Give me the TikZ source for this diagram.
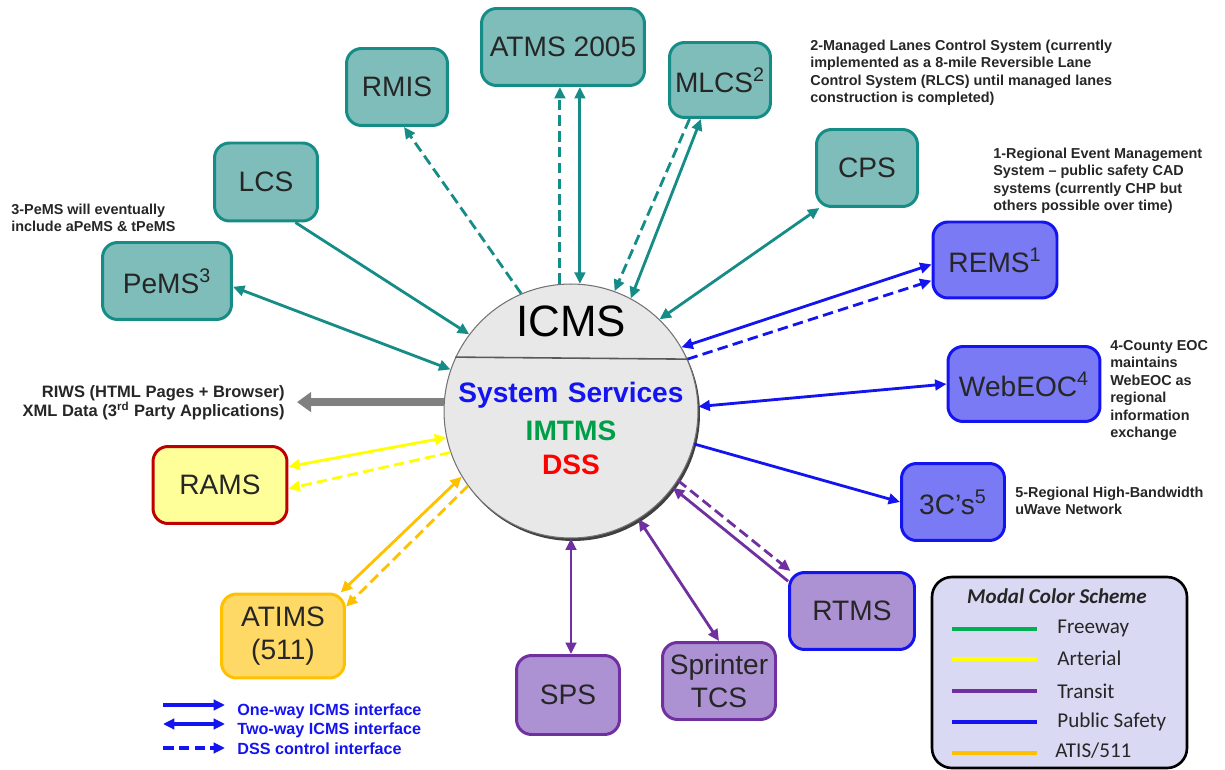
\documentclass[tikz,border=0pt]{standalone}
\usepackage{fontspec}
\setmainfont{Liberation Sans}
\newfontfamily\calibri{Carlito}
\usetikzlibrary{arrows.meta}
\definecolor{tealline}{HTML}{168C87}
\definecolor{tealfill}{HTML}{7FBDBA}
\definecolor{safeline}{HTML}{1414F0}
\definecolor{safefill}{HTML}{7A7AF5}
\definecolor{transline}{HTML}{7030A0}
\definecolor{transfill}{HTML}{AD92D3}
\definecolor{artline}{HTML}{FFFF00}
\definecolor{artfill}{HTML}{FFFF99}
\definecolor{ramsline}{HTML}{C00000}
\definecolor{atisline}{HTML}{FFC000}
\definecolor{atisfill}{HTML}{FFD966}
\definecolor{fwygreen}{HTML}{00B050}
\definecolor{legfill}{HTML}{D9D9F3}
\definecolor{icmsfill}{HTML}{E8E8E8}
\tikzset{
  sys/.style={draw, rounded corners=0.3cm, line width=1.7pt, align=center,
    font=\fontsize{16}{19}\selectfont, text=black!85, inner sep=0pt},
  fwybox/.style={sys, draw=tealline, fill=tealfill},
  safebox/.style={sys, draw=safeline, fill=safefill},
  transbox/.style={sys, draw=transline, fill=transfill},
  note/.style={font=\bfseries\fontsize{8.2}{10}\selectfont, text=black!85,
    align=left, anchor=base west, inner sep=0pt},
  link/.style={line width=1.6pt, -{Triangle[length=6.5pt,width=6pt]}},
  both/.style={line width=1.6pt, {Triangle[length=6.5pt,width=6pt]}-{Triangle[length=6.5pt,width=6pt]}},
  dss/.style={link, dash pattern=on 6pt off 3pt},
  keytext/.style={font=\calibri\fontsize{12}{14}\selectfont, text=black!85, anchor=base west, inner sep=0pt}
}
\begin{document}
\begin{tikzpicture}[x=0.02cm, y=-0.02cm]
  \useasboundingbox (0,0) rectangle (1225,770);

  % ICMS hub
  \fill[black!75] (573,414) circle[radius=2.54cm];
  \node[circle, draw=black!55, fill=icmsfill, line width=0.6pt, minimum size=5.08cm, inner sep=0pt] (icms) at (571,411) {};
  \draw[black!65, line width=0.9pt] (icms.24.7) -- (icms.155.3);
  \node[font=\fontsize{25}{25}\selectfont, anchor=base, inner sep=0pt] (icmsname) at (571,337) {ICMS};
  \node[font=\bfseries\fontsize{16}{16}\selectfont, text=safeline, anchor=base, inner sep=0pt] (services) at (571,403) {System\,\,Services};
  \node[font=\bfseries\fontsize{16}{16}\selectfont, text=fwygreen!90!black, anchor=base, inner sep=0pt] (imtms) at (571,440) {IMTMS};
  \node[font=\bfseries\fontsize{16}{16}\selectfont, text=red, anchor=base, inner sep=0pt] (dss) at (571,475) {DSS};

  % freeway systems
  \node[fwybox, minimum width=3.26cm, minimum height=1.54cm] (atms) at (563,47) {ATMS 2005};
  \node[fwybox, minimum width=2.02cm, minimum height=1.54cm] (rmis) at (397,87) {RMIS};
  \node[fwybox, minimum width=2.02cm, minimum height=1.5cm] (mlcs) at (720,80) {MLCS\textsuperscript{2}};
  \node[fwybox, minimum width=2.06cm, minimum height=1.56cm] (lcs) at (266,182) {LCS};
  \node[fwybox, minimum width=2.02cm, minimum height=1.54cm] (cps) at (867,168) {CPS};
  \node[fwybox, minimum width=2.58cm, minimum height=1.54cm] (pems) at (167,281) {PeMS\textsuperscript{3}};

  % public safety
  \node[safebox, minimum width=2.48cm, minimum height=1.52cm] (rems) at (995,260) {REMS\textsuperscript{1}};
  \node[safebox, minimum width=3.04cm, minimum height=1.5cm] (webeoc) at (1024,384) {WebEOC\textsuperscript{4}};
  \node[safebox, minimum width=2.06cm, minimum height=1.54cm] (threec) at (953,502) {3C’s\textsuperscript{5}};

  % transit
  \node[transbox, draw=safeline, minimum width=2.5cm, minimum height=1.54cm] (rtms) at (852,611) {RTMS};
  \node[transbox, minimum width=2.26cm, minimum height=1.54cm] (sprinter) at (719,681) {Sprinter\\TCS};
  \node[transbox, minimum width=2.06cm, minimum height=1.58cm] (sps) at (568,695) {SPS};

  % arterial and ATIS
  \node[sys, draw=ramsline, fill=artfill, minimum width=2.68cm, minimum height=1.54cm] (rams) at (220,485) {RAMS};
  \node[sys, draw=atisline, fill=atisfill, minimum width=2.46cm, minimum height=1.68cm] (atims) at (283,636) {ATIMS\\(511)};

  % connectors
  \draw[dss, tealline] (icms.95.4) -- (icms.95.4 |- atms.south);
  \draw[both, tealline] (icms.86.8) -- (icms.86.8 |- atms.south);
  \draw[dss, tealline] (icms.113) -- (rmis.-80);
  \draw[dss, tealline] (mlcs.232) -- (icms.70);
  \draw[both, tealline] (mlcs.244) -- (icms.62);
  \draw[both, tealline] (cps.220) -- (icms.46);
  \draw[link, tealline] (lcs.-54) -- (icms.143.7);
  \draw[both, tealline] (pems.-5) -- (icms.161.3);

  \draw[both, safeline] (icms.30) -- (rems.184);
  \draw[dss, safeline] (icms.24) -- (rems.198);
  \draw[both, safeline] (icms.2.7) -- (webeoc.west);
  \draw[link, safeline] (icms.345) -- (threec.west);

  \draw[link, transline] (rtms.155) -- (icms.323);
  \draw[dss, transline] (icms.327.7) -- (rtms.147);
  \draw[both, transline] (icms.302) -- (sprinter.north);
  \draw[both, transline] (icms.south) -- (icms.south |- sps.north);

  \draw[both, artline] (icms.192) -- (rams.15);
  \draw[dss, artline] (icms.199) -- (rams.-3);
  \draw[both, atisline] (icms.211.6) -- (atims.37);
  \draw[dss, atisline] (icms.216) -- (atims.25);

  % web / XML output
  \coordinate (riwstip) at (297,402);
  \draw[line width=4.5pt, black!50, -{Triangle[length=8pt,width=11pt]}] (icms.176) -- (icms.176 -| riwstip);
  \node[font=\bfseries\fontsize{9.4}{11.3}\selectfont, text=black!85, align=right, anchor=base east, inner sep=0pt] (riws) at (285,417)
    {RIWS (HTML Pages + Browser)\\XML Data (3\textsuperscript{rd} Party Applications)};

  % footnotes (anchored at the last line)
  \node[note] (mlcsnote) at (810,103) {2-Managed Lanes Control System (currently\\implemented as a 8-mile Reversible Lane\\Control System (RLCS) until managed lanes\\construction is completed)};
  \node[note] (remsnote) at (993,211) {1-Regional Event Management\\System -- public safety CAD\\systems (currently CHP but\\others possible over time)};
  \node[note] (pemsnote) at (11,232) {3-PeMS will eventually\\include aPeMS \& tPeMS};
  \node[note] (webeocnote) at (1110,438) {4-County EOC\\maintains\\WebEOC as\\regional\\information\\exchange};
  \node[note] (threecnote) at (1015,515) {5-Regional High-Bandwidth\\uWave Network};

  % interface key
  \coordinate (k1a) at (163,705); \coordinate (k1b) at (225,705);
  \coordinate (k2a) at (163,724); \coordinate (k2b) at (225,724);
  \coordinate (k3a) at (163,748); \coordinate (k3b) at (225,748);
  \draw[link, safeline, line width=2.2pt] (k1a) -- (k1b);
  \draw[both, safeline, line width=2.2pt] (k2a) -- (k2b);
  \draw[dss, safeline, line width=2.2pt] (k3a) -- (k3b);
  \node[font=\bfseries\fontsize{9.2}{11}\selectfont, text=safeline, anchor=base west, inner sep=0pt] (k1) at (237,715) {One-way ICMS interface};
  \node[font=\bfseries\fontsize{9.2}{11}\selectfont, text=safeline, anchor=base west, inner sep=0pt] (k2) at (237,734) {Two-way ICMS interface};
  \node[font=\bfseries\fontsize{9.2}{11}\selectfont, text=safeline, anchor=base west, inner sep=0pt] (k3) at (237,754) {DSS control interface};

  % modal colour key
  \draw[fill=legfill, line width=1.5pt, rounded corners=0.4cm] (932,577) rectangle (1187,768);
  \node[font=\calibri\bfseries\itshape\fontsize{12}{14}\selectfont, text=black!85, anchor=base, inner sep=0pt] (keytitle) at (1057,603) {Modal Color Scheme};
  \draw[fwygreen, line width=1.9pt] (952,629) -- (1037,629);
  \draw[artline, line width=1.9pt] (952,659) -- (1037,659);
  \draw[transline, line width=1.9pt] (952,691) -- (1037,691);
  \draw[safeline, line width=1.9pt] (952,722) -- (1037,722);
  \draw[atisline, line width=1.9pt] (952,753) -- (1037,753);
  \node[keytext] (kfwy) at (1057,633) {Freeway};
  \node[keytext] (kart) at (1057,665) {Arterial};
  \node[keytext] (ktrans) at (1057,698) {Transit};
  \node[keytext] (ksafe) at (1057,727) {Public Safety};
  \node[keytext] (katis) at (1055,757) {ATIS/511};
\end{tikzpicture}
\end{document}
